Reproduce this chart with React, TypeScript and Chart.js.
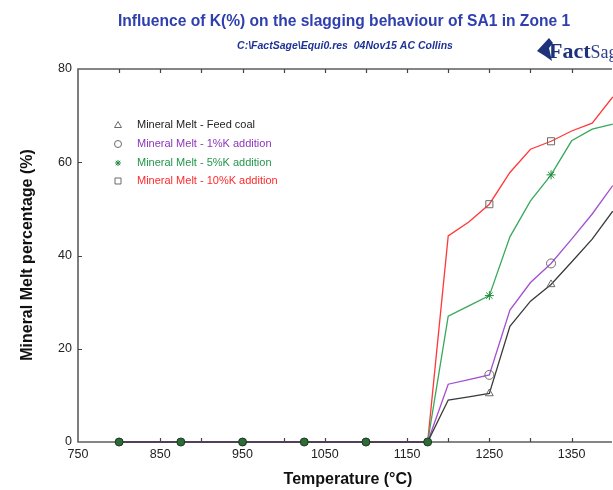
import React, { useEffect, useRef } from 'react';
import { Chart, registerables } from 'chart.js';

Chart.register(...registerables);

// ---- data ----
const lineTemps = [800, 875, 950, 1025, 1100, 1175, 1200, 1225, 1250, 1275, 1300, 1325, 1350, 1375, 1400];
const markerTemps = [800, 875, 950, 1025, 1100, 1175, 1250, 1325, 1400];
const feedCoal = [0, 0, 0, 0, 0, 0, 9.0, 9.7, 10.4, 24.8, 30.2, 33.8, 38.6, 43.5, 49.5];
const k1 = [0, 0, 0, 0, 0, 0, 12.4, 13.4, 14.4, 28.3, 34.2, 38.3, 43.5, 48.9, 55.0];
const k5 = [0, 0, 0, 0, 0, 0, 27.0, 29.2, 31.4, 44.0, 51.7, 57.3, 64.6, 67.1, 68.2];
const k10 = [0, 0, 0, 0, 0, 0, 44.2, 47.2, 51.0, 57.8, 62.8, 64.5, 66.7, 68.4, 74.0];
const seriesLabels = [
  'Mineral Melt - Feed coal',
  'Mineral Melt - 1%K addition',
  'Mineral Melt - 5%K addition',
  'Mineral Melt - 10%K addition',
];
const xTickValues = [750, 800, 850, 900, 950, 1000, 1050, 1100, 1150, 1200, 1250, 1300, 1350];
const xLabelValues = [750, 850, 950, 1050, 1150, 1250, 1350];
const yTickValues = [0, 20, 40, 60, 80];

const titleText = 'Influence of K(%) on the slagging behaviour of SA1 in Zone 1';
const subtitleText = 'C:\\FactSage\\Equi0.res  04Nov15 AC Collins';
const xTitle = 'Temperature (°C)';
const yTitle = 'Mineral Melt percentage (%)';

const FONT = '"Liberation Sans", Arial, Helvetica, sans-serif';

const seriesValues = [feedCoal, k1, k5, k10];
const lineColors = ['#3a3a3a', '#a24fd0', '#38a85a', '#ff3838'];
const textColors = ['#222222', '#8c36b8', '#23964a', '#ff2a2a'];
const markerStyles = ['triangle', 'circle', 'star', 'rect'];
const markerBorder = ['#6a6a6a', '#6a6a6a', '#1f8a3c', '#6a6a6a'];

function drawSymbol(ctx: CanvasRenderingContext2D, style: string, x: number, y: number, color: string) {
  ctx.save();
  ctx.strokeStyle = color;
  ctx.lineWidth = 1;
  ctx.beginPath();
  if (style === 'triangle') {
    ctx.moveTo(x, y - 3.5);
    ctx.lineTo(x + 3.5, y + 2.5);
    ctx.lineTo(x - 3.5, y + 2.5);
    ctx.closePath();
    ctx.stroke();
  } else if (style === 'circle') {
    ctx.arc(x, y, 3.5, 0, Math.PI * 2);
    ctx.stroke();
  } else if (style === 'star') {
    ctx.moveTo(x - 3, y); ctx.lineTo(x + 3, y);
    ctx.moveTo(x, y - 3); ctx.lineTo(x, y + 3);
    ctx.moveTo(x - 2.2, y - 2.2); ctx.lineTo(x + 2.2, y + 2.2);
    ctx.moveTo(x - 2.2, y + 2.2); ctx.lineTo(x + 2.2, y - 2.2);
    ctx.stroke();
  } else {
    ctx.rect(x - 3, y - 3, 6, 6);
    ctx.stroke();
  }
  ctx.restore();
}

const decorPlugin = {
  id: 'decor',
  beforeDatasetsDraw(chart: any) {
    const { ctx, chartArea: a, scales } = chart;
    const xs = scales.x;
    const ys = scales.y;
    ctx.save();
    ctx.strokeStyle = '#5e5e5e';
    ctx.lineWidth = 1.6;
    ctx.beginPath();
    ctx.moveTo(a.right + 5, a.top);
    ctx.lineTo(a.left, a.top);
    ctx.lineTo(a.left, a.bottom);
    ctx.lineTo(a.right + 5, a.bottom);
    ctx.stroke();
    ctx.lineWidth = 1.2;
    ctx.strokeStyle = '#444';
    ctx.beginPath();
    xTickValues.forEach((v) => {
      if (v === 750) return;
      const p = Math.round(xs.getPixelForValue(v)) + 0.5;
      ctx.moveTo(p, a.bottom);
      ctx.lineTo(p, a.bottom - 4);
      ctx.moveTo(p, a.top);
      ctx.lineTo(p, a.top + 4);
    });
    yTickValues.forEach((v) => {
      if (v === 0 || v === 80) return;
      const p = Math.round(ys.getPixelForValue(v)) + 0.5;
      ctx.moveTo(a.left, p);
      ctx.lineTo(a.left + 4, p);
    });
    ctx.stroke();
    ctx.restore();
  },
  afterDraw(chart: any) {
    const { ctx } = chart;
    ctx.save();
    // titles
    ctx.textAlign = 'center';
    ctx.textBaseline = 'middle';
    ctx.fillStyle = '#2f3fae';
    ctx.font = `bold 15.6px ${FONT}`;
    ctx.fillText(titleText, 344, 22);
    ctx.fillStyle = '#1f3296';
    ctx.font = `italic bold 10.5px ${FONT}`;
    ctx.fillText(subtitleText, 345, 46);

    // axis titles
    ctx.fillStyle = '#111';
    ctx.font = `bold 16px ${FONT}`;
    ctx.fillText(xTitle, 348, 480);
    ctx.save();
    ctx.translate(28, 255);
    ctx.rotate(-Math.PI / 2);
    ctx.fillText(yTitle, 0, 0);
    ctx.restore();

    // legend
    ctx.textAlign = 'left';
    ctx.font = `11px ${FONT}`;
    const rows = [125, 144, 163, 181];
    seriesLabels.forEach((lab, i) => {
      drawSymbol(ctx, markerStyles[i], 118, rows[i], markerBorder[i]);
      ctx.fillStyle = textColors[i];
      ctx.fillText(lab, 137, rows[i]);
    });

    // FactSage logo
    ctx.fillStyle = '#1d3278';
    ctx.beginPath();
    ctx.moveTo(537, 51);
    ctx.lineTo(549, 38);
    ctx.lineTo(553, 43);
    ctx.lineTo(549, 48);
    ctx.lineTo(552, 61);
    ctx.lineTo(545, 56);
    ctx.closePath();
    ctx.fill();
    ctx.textBaseline = 'alphabetic';
    ctx.font = `bold 22px "Liberation Serif", "DejaVu Serif", serif`;
    ctx.fillText('Fact', 549, 58);
    const w = ctx.measureText('Fact').width;
    ctx.font = `18px "Liberation Serif", "DejaVu Serif", serif`;
    ctx.fillStyle = '#2a3f86';
    ctx.fillText('Sage', 549 + w, 58);

    ctx.restore();
  },
};

export default function App() {
  const ref = useRef<HTMLCanvasElement | null>(null);

  useEffect(() => {
    if (!ref.current) return;
    const datasets: any[] = [];
    // zero markers (overlapping series points on the axis)
    datasets.push({
      type: 'scatter',
      label: 'zero',
      data: markerTemps
        .map((t) => ({ x: t, y: feedCoal[lineTemps.indexOf(t)] }))
        .filter((p) => p.y === 0),
      pointStyle: 'circle',
      pointRadius: 4,
      backgroundColor: '#2e6b36',
      borderColor: '#1a3a1f',
      borderWidth: 1,
      order: 0,
      clip: false,
    });
    seriesValues.forEach((vals, i) => {
      datasets.push({
        type: 'scatter',
        label: seriesLabels[i] + ' markers',
        data: markerTemps
          .map((t) => ({ x: t, y: vals[lineTemps.indexOf(t)] }))
          .filter((p) => p.y > 0),
        pointStyle: markerStyles[i],
        pointRadius: markerStyles[i] === 'rect' ? 5 : 4.5,
        backgroundColor: markerStyles[i] === 'star' ? '#1f8a3c' : 'rgba(0,0,0,0)',
        borderColor: markerBorder[i],
        borderWidth: 1,
        order: 1,
        clip: 0,
      });
    });
    seriesValues.forEach((vals, i) => {
      datasets.push({
        type: 'line',
        label: seriesLabels[i],
        data: lineTemps.map((t, j) => ({ x: t, y: vals[j] })),
        borderColor: lineColors[i],
        borderWidth: 1.3,
        pointRadius: 0,
        tension: 0,
        fill: false,
        order: 2,
        clip: false,
      });
    });

    const chart = new Chart(ref.current, {
      type: 'scatter',
      data: { datasets },
      plugins: [decorPlugin],
      options: {
        animation: false,
        responsive: false,
        devicePixelRatio: 1,
        layout: { padding: { top: 69, left: 0, right: 0, bottom: 0 } },
        plugins: {
          legend: { display: false },
          tooltip: { enabled: false },
          title: { display: false },
        },
        scales: {
          x: {
            type: 'linear',
            min: 750,
            max: 1393,
            afterBuildTicks: (s: any) => {
              s.ticks = xTickValues.map((v) => ({ value: v }));
            },
            afterFit: (s: any) => {
              s.height = 48;
            },
            grid: { display: false, drawTicks: false },
            border: { display: false },
            ticks: {
              autoSkip: false,
              maxRotation: 0,
              padding: 5,
              color: '#222',
              font: { family: FONT, size: 12.5 },
              callback: (v: any) => (xLabelValues.includes(Number(v)) ? String(v) : ''),
            },
          },
          y: {
            type: 'linear',
            min: 0,
            max: 80,
            afterBuildTicks: (s: any) => {
              s.ticks = yTickValues.map((v) => ({ value: v }));
            },
            afterFit: (s: any) => {
              s.width = 78;
            },
            grid: { display: false, drawTicks: false },
            border: { display: false },
            ticks: {
              padding: 6,
              color: '#222',
              font: { family: FONT, size: 12.5 },
            },
          },
        },
      },
    });
    return () => chart.destroy();
  }, []);

  return (
    <div style={{ position: 'fixed', left: 0, top: 0, width: 613, height: 490, overflow: 'hidden', background: '#fff' }}>
      <canvas ref={ref} width={613} height={490} style={{ display: 'block', width: 613, height: 490 }} />
    </div>
  );
}
